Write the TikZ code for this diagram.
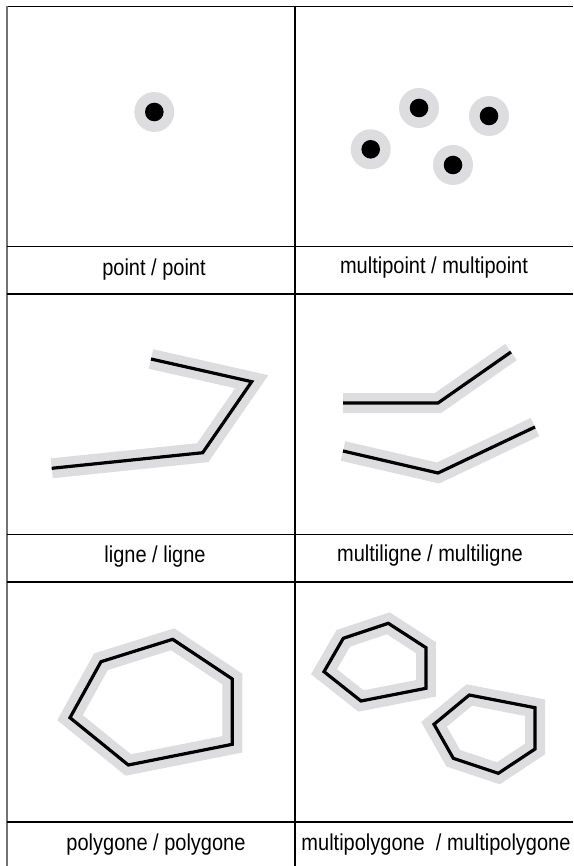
\documentclass[tikz,border=0pt]{standalone}
\usepackage{fontspec}
\setmainfont{Liberation Sans}
\definecolor{halo}{RGB}{221,221,223}
\tikzset{
  grid/.style={line width=1.5pt, black},
  haloline/.style={line width=20pt, halo, line cap=butt, line join=miter},
  coreline/.style={line width=3.2pt, black, line cap=butt, line join=miter},
  label/.style={font=\fontsize{20}{24}\selectfont, inner sep=0pt},
}
\newcommand{\geopt}[2]{%
  \fill[halo] (#1,#2) circle (20);
  \fill[black] (#1,#2) circle (9.3);
}
\begin{document}
\begin{tikzpicture}[x=1pt,y=-1pt]
\useasboundingbox (0,0) rectangle (573,866);
% grid
\draw[grid] (6.5,6.5) -- (573,6.5);
\draw[line width=2pt, black!55] (6.5,6.5) -- (6.5,866);
\draw[grid] (295,6.5) -- (295,866);
\foreach \yy in {246.5,294,534.5,582,822} \draw[grid] (6.5,\yy) -- (573,\yy);
% point
\geopt{154.3}{112}
% multipoint
\geopt{370.7}{149.3}
\geopt{419}{108}
\geopt{489}{116}
\geopt{453}{165}
% ligne
\draw[haloline] (151,359) -- (251.7,381.7) -- (202.7,452.7) -- (51.7,468.3);
\draw[coreline] (151,359) -- (251.7,381.7) -- (202.7,452.7) -- (51.7,468.3);
% multiligne
\draw[haloline] (343,403) -- (438,403) -- (511,352);
\draw[coreline] (343,403) -- (438,403) -- (511,352);
\draw[haloline] (343,451) -- (438,473) -- (535,427);
\draw[coreline] (343,451) -- (438,473) -- (535,427);
% polygone
\draw[haloline] (101,661.7) -- (172.7,639.3) -- (232.3,679) -- (232.3,744.3) -- (128.3,765) -- (70,717.7) -- cycle;
\draw[coreline] (101,661.7) -- (172.7,639.3) -- (232.3,679) -- (232.3,744.3) -- (128.3,765) -- (70,717.7) -- cycle;
% multipolygone
\draw[haloline] (343.3,638.3) -- (388.3,623.3) -- (426,647.7) -- (426,688.3) -- (361,701) -- (324,671.7) -- cycle;
\draw[coreline] (343.3,638.3) -- (388.3,623.3) -- (426,647.7) -- (426,688.3) -- (361,701) -- (324,671.7) -- cycle;
\draw[haloline] (469.3,695) -- (535,707.7) -- (535,749) -- (498.3,773.3) -- (453.3,758.3) -- (434,724.3) -- cycle;
\draw[coreline] (469.3,695) -- (535,707.7) -- (535,749) -- (498.3,773.3) -- (453.3,758.3) -- (434,724.3) -- cycle;
% labels
\node[label] (lpoint) at (154,270) {\scalebox{1}[1.15]{point / point}};
\node[label] (lmpoint) at (434,268) {\scalebox{1}[1.15]{multipoint / multipoint}};
\node[label] (lligne) at (155,557) {\scalebox{1}[1.15]{ligne / ligne}};
\node[label] (lmligne) at (430,556) {\scalebox{1}[1.15]{multiligne / multiligne}};
\node[label] (lpoly) at (156,845) {\scalebox{1}[1.15]{polygone / polygone}};
\node[label] (lmpoly) at (436,845) {\scalebox{1}[1.15]{multipolygone\ \ / multipolygone}};
\end{tikzpicture}
\end{document}
